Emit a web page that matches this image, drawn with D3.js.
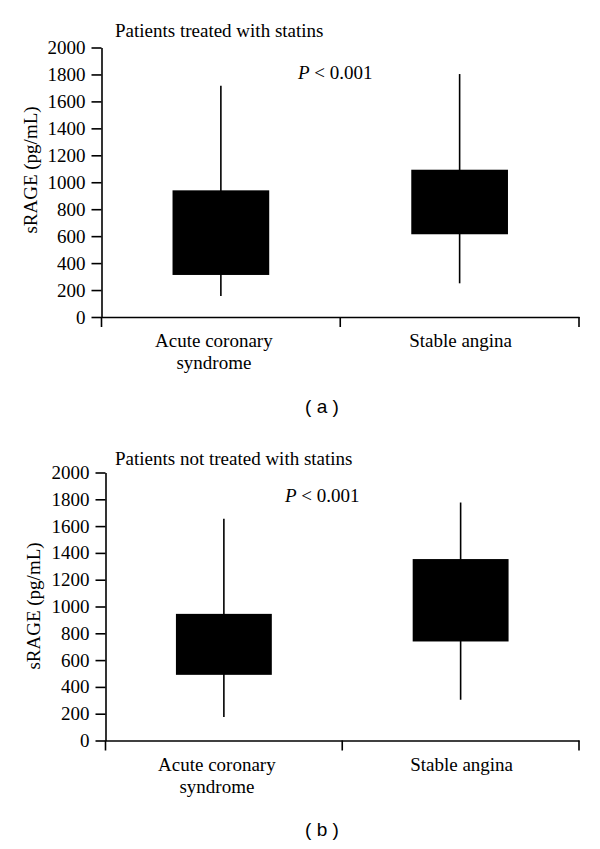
<!DOCTYPE html>
<html>
<head>
<meta charset="utf-8">
<script src="https://cdn.jsdelivr.net/npm/d3@7"></script>
<style>
  html, body { margin: 0; padding: 0; background: #fff; }
  svg { display: block; }
</style>
</head>
<body>
<svg id="chart" width="600" height="849"></svg>
<script>
// ---- data ----
const categories = ["Acute coronary syndrome", "Stable angina"];
const categoryLines = [["Acute coronary", "syndrome"], ["Stable angina"]];
const yTicks = [0, 200, 400, 600, 800, 1000, 1200, 1400, 1600, 1800, 2000];
const panelTitles = ["Patients treated with statins", "Patients not treated with statins"];
const panelLetters = ["( a )", "( b )"];
const pLabel = "< 0.001";
// [whisker low, box low, box high, whisker high]
const statinsACS = [156, 312, 940, 1716];
const statinsSA = [250, 614, 1093, 1803];
const noStatinsACS = [175, 490, 945, 1654];
const noStatinsSA = [304, 739, 1354, 1776];

const SERIF = "'Liberation Serif', 'Times New Roman', serif";
const SANS = "'Liberation Sans', Arial, sans-serif";

const panels = [
  { series: [statinsACS, statinsSA], left: 101.5, top: 47.5, bottom: 317, pX: 298, pY: 79, titleY: 37, labX: 37, labY: 170, letterY: 413 },
  { series: [noStatinsACS, noStatinsSA], left: 105.5, top: 472.5, bottom: 740.5, pX: 285, pY: 502, titleY: 465, labX: 40, labY: 606, letterY: 836 }
];

const svg = d3.select("#chart");
const right = 579;

function serifText(sel) {
  return sel.attr("font-family", SERIF).style("font-family", SERIF).attr("font-size", 19).attr("fill", "#000");
}

panels.forEach((p, pi) => {
  const g = svg.append("g");
  const y = d3.scaleLinear().domain([0, 2000]).range([p.bottom, p.top]);
  const x = d3.scaleBand().domain(categories).range([p.left, right]).paddingInner(0).paddingOuter(0);
  const boxW = x.bandwidth() * 0.405;

  // y axis
  const ya = g.append("g")
    .attr("transform", `translate(${p.left},0)`)
    .call(d3.axisLeft(y).tickValues(yTicks).tickSize(10).tickSizeOuter(0).tickPadding(6).tickFormat(d3.format("d")));
  ya.attr("font-family", SERIF).attr("font-size", 19);
  ya.selectAll("path, line").attr("stroke", "#000").attr("stroke-width", 1.6);
  serifText(ya.selectAll("text"));

  // x axis
  const xa = g.append("g").attr("transform", `translate(0,${p.bottom})`)
    .call(d3.axisBottom(x).tickSize(0).tickFormat(""));
  xa.select("path").attr("stroke", "#000").attr("stroke-width", 1.6);
  const bounds = categories.map(c => x(c)).concat([x.range()[1]]);
  xa.selectAll("line.bound").data(bounds).join("line")
    .attr("class", "bound")
    .attr("x1", d => d).attr("x2", d => d)
    .attr("y1", 0).attr("y2", 10)
    .attr("stroke", "#000").attr("stroke-width", 1.6);

  // category labels
  categories.forEach((c, ci) => {
    const cx = x(c) + x.bandwidth() / 2 + (ci === 0 ? -7 : 1);
    const t = serifText(g.append("text"))
      .attr("text-anchor", "middle").attr("x", cx).attr("y", p.bottom + 30);
    categoryLines[ci].forEach((ln, li) => {
      t.append("tspan").attr("x", cx).attr("dy", li === 0 ? 0 : 22).text(ln);
    });
  });

  // boxes
  p.series.forEach((s, si) => {
    const cx = x(categories[si]) + x.bandwidth() / 2;
    g.append("line")
      .attr("x1", cx).attr("x2", cx)
      .attr("y1", y(s[0])).attr("y2", y(s[3]))
      .attr("stroke", "#000").attr("stroke-width", 1.6);
    g.append("rect")
      .attr("x", cx - boxW / 2).attr("width", boxW)
      .attr("y", y(s[2])).attr("height", y(s[1]) - y(s[2]))
      .attr("fill", "#000");
  });

  // title
  serifText(g.append("text")).attr("x", 115).attr("y", p.titleY).text(panelTitles[pi]);

  // P value
  const pt = serifText(g.append("text")).attr("x", p.pX).attr("y", p.pY);
  pt.append("tspan").attr("font-style", "italic").text("P");
  pt.append("tspan").text(" " + pLabel);

  // y label
  serifText(g.append("text"))
    .attr("text-anchor", "middle")
    .attr("transform", `translate(${p.labX},${p.labY}) rotate(-90)`)
    .text("sRAGE (pg/mL)");

  // panel letter
  g.append("text")
    .attr("font-family", SANS).style("font-family", SANS)
    .attr("font-size", 19).attr("text-anchor", "middle")
    .attr("x", 322).attr("y", p.letterY).text(panelLetters[pi]);
});
</script>
</body>
</html>
